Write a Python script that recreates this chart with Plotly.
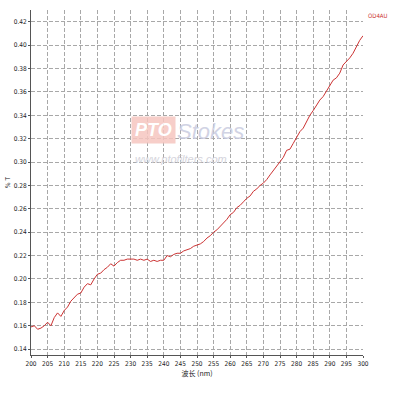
import plotly.graph_objects as go

wavelength = list(range(200, 301))
transmission = [
    0.159, 0.160, 0.157, 0.158, 0.160, 0.163, 0.160, 0.167, 0.171, 0.168,
    0.173, 0.176, 0.181, 0.184, 0.187, 0.188, 0.193, 0.196, 0.195, 0.200,
    0.204, 0.205, 0.208, 0.210, 0.213, 0.211, 0.214, 0.216, 0.216, 0.217,
    0.217, 0.217, 0.216, 0.217, 0.216, 0.217, 0.215, 0.216, 0.215, 0.216,
    0.216, 0.220, 0.219, 0.221, 0.222, 0.222, 0.224, 0.225, 0.226, 0.228,
    0.229, 0.230, 0.232, 0.235, 0.237, 0.240, 0.242, 0.245, 0.248, 0.251,
    0.255, 0.257, 0.261, 0.263, 0.266, 0.269, 0.271, 0.275, 0.277, 0.280,
    0.282, 0.285, 0.289, 0.293, 0.297, 0.300, 0.304, 0.310, 0.311, 0.316,
    0.321, 0.326, 0.329, 0.335, 0.340, 0.344, 0.349, 0.353, 0.356, 0.361,
    0.366, 0.370, 0.372, 0.376, 0.383, 0.386, 0.389, 0.393, 0.399, 0.404,
    0.408,
]
x_ticks = list(range(200, 301, 5))
y_ticks = [round(0.14 + 0.02 * i, 2) for i in range(15)]
series_name = "OD4AU"

narrow = "DejaVu Sans Condensed, Liberation Sans Narrow, Liberation Sans, Arial"
tick_font = dict(family=narrow, size=6.5, color="#222")

fig = go.Figure()
fig.add_trace(go.Scatter(
    x=wavelength, y=transmission, mode="lines", name=series_name,
    line=dict(color="#cc3333", width=1), showlegend=False,
))

fig.update_layout(
    width=400, height=400,
    margin=dict(l=31, r=37, t=10, b=45),
    paper_bgcolor="white", plot_bgcolor="white",
    xaxis=dict(
        range=[200, 300], tickmode="array", tickvals=x_ticks,
        ticktext=[str(v) for v in x_ticks], tickfont=tick_font,
        showgrid=True, gridcolor="#a8a8a8", griddash="4px,2px", gridwidth=1,
        showline=True, linecolor="#555", linewidth=1, automargin=False,
        ticks="outside", ticklen=2, tickcolor="#555", zeroline=False,
        title=dict(text="波长 (nm)", font=dict(family="Noto Sans CJK SC", size=7, color="#222"), standoff=4),
    ),
    yaxis=dict(
        range=[0.135, 0.43], tickmode="array", tickvals=y_ticks,
        ticktext=[f"{v:.2f}" for v in y_ticks], tickfont=tick_font,
        showgrid=True, gridcolor="#a8a8a8", griddash="4px,2px", gridwidth=1,
        showline=True, linecolor="#555", linewidth=1, automargin=False,
        ticks="outside", ticklen=2, tickcolor="#555", zeroline=False,
        title=dict(text="% T", font=dict(family=narrow, size=6.5, color="#222"), standoff=2),
    ),
    annotations=[
        dict(text=series_name, x=1.01, y=1.0, xref="paper", yref="paper",
             xanchor="left", yanchor="top", showarrow=False,
             font=dict(family=narrow, size=6, color="#cc3333")),
        dict(text="<b><i>PTO</i></b>", x=(153 - 31) / 332, y=(355 - 130) / 345, xref="paper", yref="paper",
             showarrow=False, font=dict(family="Liberation Sans", size=18, color="white"),
             bgcolor="#f6c6c0", borderpad=3, opacity=0.85),
        dict(text="<i>Stokes</i>", x=(210 - 31) / 332, y=(355 - 131) / 345, xref="paper", yref="paper",
             showarrow=False, font=dict(family="Liberation Sans", size=22, color="#c9cce0"), opacity=0.85),
        dict(text="<i>www.ptofilters.com</i>", x=(181 - 31) / 332, y=(355 - 159) / 345, xref="paper", yref="paper",
             showarrow=False, font=dict(family="Liberation Sans", size=11, color="#cdcdd6"), opacity=0.85),
    ],
)

fig.write_html("out.html")
